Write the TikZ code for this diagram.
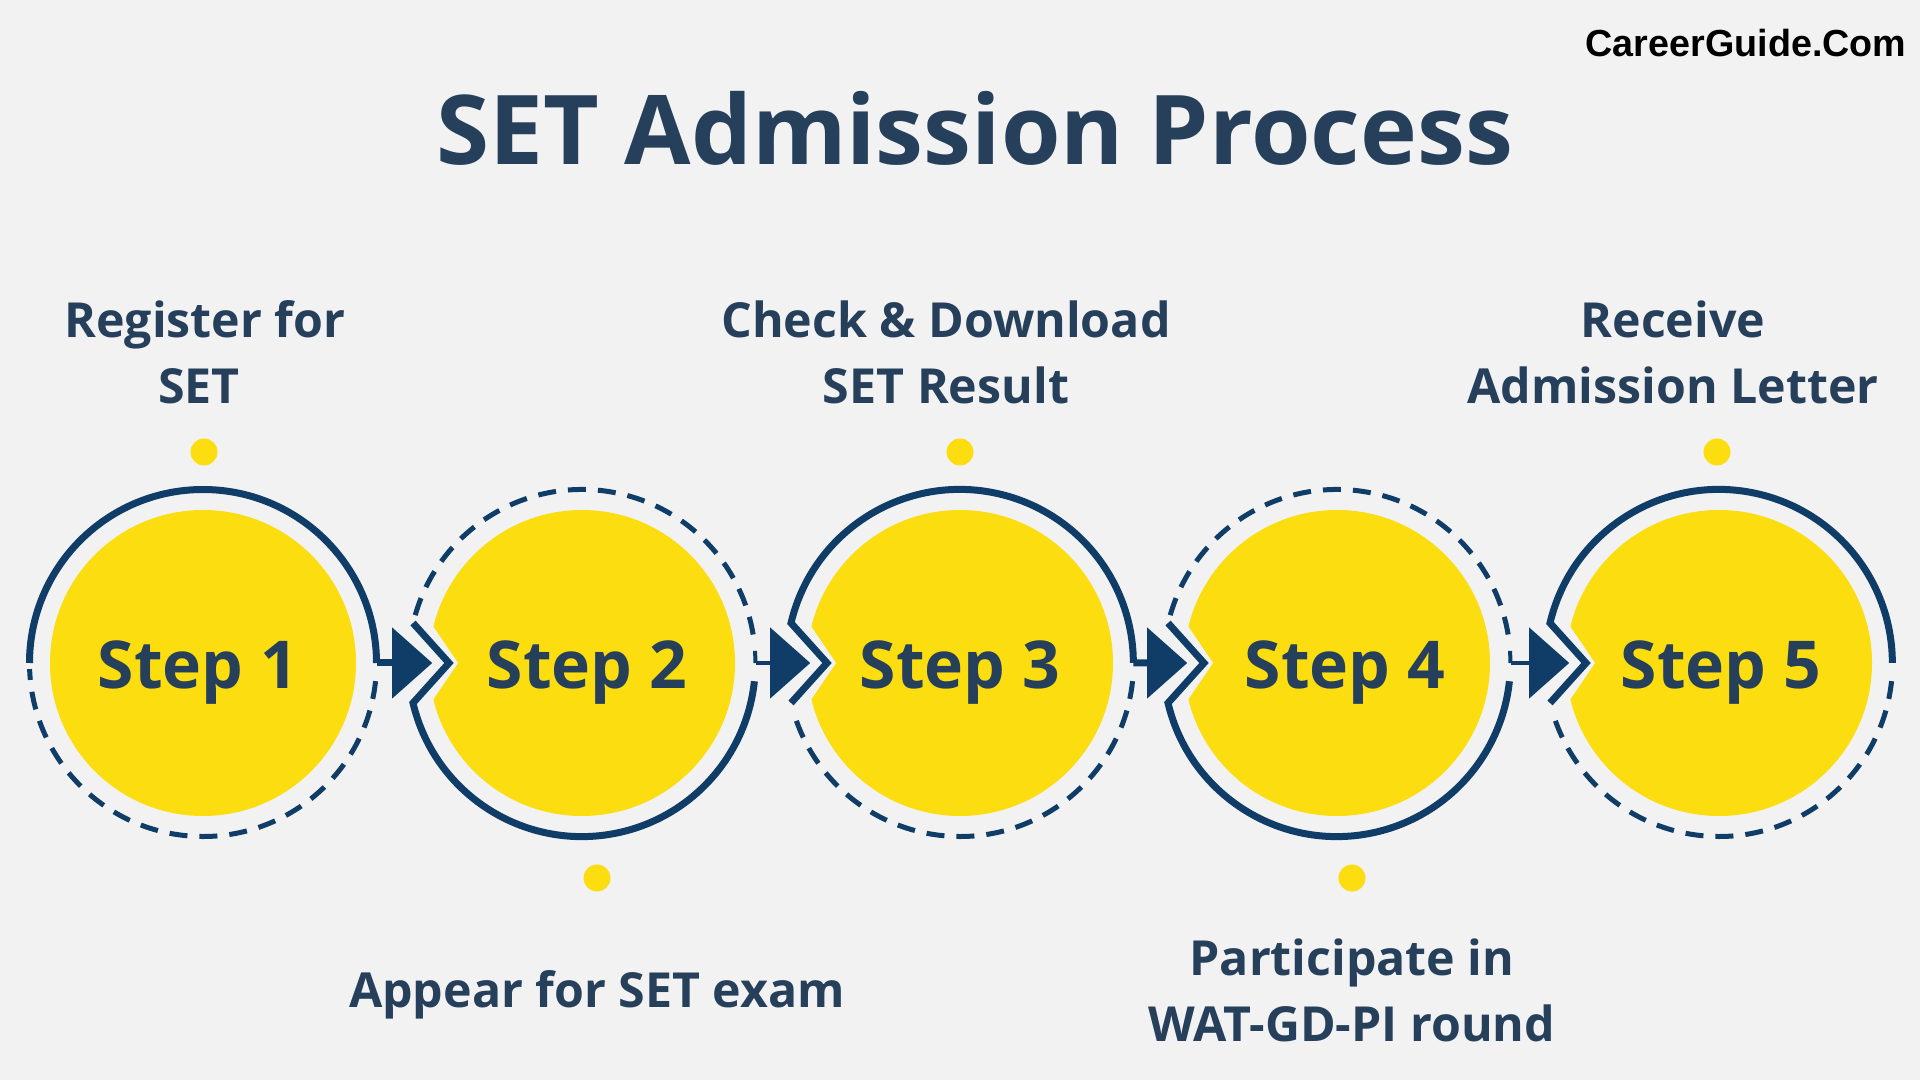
\documentclass[tikz,border=0pt]{standalone}
\usepackage{fontspec}
\setmainfont{Open Sans}
\newfontfamily\markfont{Liberation Sans}
\usepackage{tikz}
\usetikzlibrary{calc}
\usetikzlibrary{arrows, arrows.meta, positioning, shapes, shapes.geometric}
\definecolor{pagebg}{HTML}{F2F2F2}
\definecolor{navy}{HTML}{0F3D68}
\definecolor{slate}{HTML}{26405C}
\definecolor{sun}{HTML}{FBDD10}

\begin{document}
\begin{tikzpicture}[x=1pt, y=1pt]

	% Define block styles
	\tikzstyle{disc} = [circle, fill=sun, minimum size=306pt, inner sep=0pt]
	\tikzstyle{dotmark} = [circle, fill=sun, minimum size=27pt, inner sep=0pt]
	\tikzstyle{steptext} = [font=\bfseries\fontsize{66}{70}\selectfont, text=slate, inner sep=0pt]
	\tikzstyle{caption} = [font=\bfseries\fontsize{48.3}{66}\selectfont, text=slate, align=center, inner sep=0pt]
	\tikzstyle{head} = [isosceles triangle, isosceles triangle stretches, fill=navy, minimum width=71pt, minimum height=40pt, inner sep=0pt]
	\tikzstyle{full} = [draw=navy, line width=7pt, miter limit=10]
	\tikzstyle{broken} = [draw=navy, line width=5pt, dash pattern=on 18pt off 12pt]
	\tikzstyle{thick stem} = [draw=navy, line width=7pt]
	\tikzstyle{thin stem} = [draw=navy, line width=4pt]
	\tikzstyle{notch} = [fill=pagebg]

	\fill [pagebg] (0,0) rectangle (1920,1080);
	\useasboundingbox (0,0) rectangle (1920,1080);

	% Nodes
	\node [font=\bfseries\fontsize{96.3}{100}\selectfont, text=slate, inner sep=0pt] (title) at (975,952) {SET Admission Process};
	\node [font=\markfont\bfseries\fontsize{37.7}{40}\selectfont, text=black, inner sep=0pt] (brand) at (1746,1037) {CareerGuide.Com};

	\node [disc] (disc1) at (203,417) {};
	\node [disc, right of=disc1, node distance=379pt] (disc2) {};
	\node [disc, right of=disc2, node distance=378pt] (disc3) {};
	\node [disc, right of=disc3, node distance=377pt] (disc4) {};
	\node [disc, right of=disc4, node distance=382pt] (disc5) {};

	\path [notch, shift={(disc2.center)}] (-160,53) -- (-124,0) -- (-160,-53) -- cycle;
	\path [notch, shift={(disc3.center)}] (-160,53) -- (-124,0) -- (-160,-53) -- cycle;
	\path [notch, shift={(disc4.center)}] (-160,53) -- (-124,0) -- (-160,-53) -- cycle;
	\path [notch, shift={(disc5.center)}] (-160,53) -- (-124,0) -- (-160,-53) -- cycle;

	\node [steptext] (step1) at (198,407) {Step 1};
	\node [steptext] (step2) at (587,407) {Step 2};
	\node [steptext] (step3) at (960,407) {Step 3};
	\node [steptext] (step4) at (1345,407) {Step 4};
	\node [steptext] (step5) at (1721,407) {Step 5};

	\node [dotmark] (dot1) at (204,628) {};
	\node [dotmark] (dot2) at (597,202) {};
	\node [dotmark] (dot3) at (960,628) {};
	\node [dotmark] (dot4) at (1352,202) {};
	\node [dotmark] (dot5) at (1717,628) {};

	\node [caption] (text1) at (205,728) {Register for\\SET\hspace*{12pt}};
	\node [caption] (text2) at (597,85) {Appear for SET exam};
	\node [caption] (text3) at (946,728) {Check \& Download\\SET Result};
	\node [caption] (text4) at (1352,90) {Participate in\\WAT-GD-PI round};
	\node [caption] (text5) at (1673,728) {Receive\\Admission Letter};

	\node [head, anchor=west] (head2) at ($(disc2)+(-190,0)$) {};
	\node [head, anchor=west] (head3) at ($(disc3)+(-190,0)$) {};
	\node [head, anchor=west] (head4) at ($(disc4)+(-190,0)$) {};
	\node [head, anchor=west] (head5) at ($(disc5)+(-190,0)$) {};

	% Rings
	\draw [full, shift={(disc1.center)}] (180:173.5) arc (180:0:173.5) coordinate (out1);
	\draw [broken, shift={(disc1.center)}] (-6:173.5) arc (-6:-178:173.5);

	\draw [full, shift={(disc2.center)}] (-169,40) -- (-133,0) -- (-169,-40) arc (-166.7:-6:173.5);
	\draw [broken, shift={(disc2.center)}] (164:173.5) arc (164:8:173.5);
	\draw [thin stem, shift={(disc2.center)}] (4:173.5) coordinate (tick2) -- (0:173.5) coordinate (out2);

	\draw [full, shift={(disc3.center)}] (-169,-40) -- (-133,0) -- (-169,40) arc (166.7:0:173.5) coordinate (out3);
	\draw [broken, shift={(disc3.center)}] (-6:173.5) arc (-6:-162:173.5);

	\draw [full, shift={(disc4.center)}] (-169,40) -- (-133,0) -- (-169,-40) arc (-166.7:-6:173.5);
	\draw [broken, shift={(disc4.center)}] (164:173.5) arc (164:8:173.5);
	\draw [thin stem, shift={(disc4.center)}] (4:173.5) coordinate (tick4) -- (0:173.5) coordinate (out4);

	\draw [full, shift={(disc5.center)}] (-169,-40) -- (-133,0) -- (-169,40) arc (166.7:0:173.5);
	\draw [broken, shift={(disc5.center)}] (-6:173.5) arc (-6:-162:173.5);

	% Paths
	\path [thick stem] (out1) -- (head2);
	\path [thin stem] (out2) -- (head3);
	\path [thick stem] (out3) -- (head4);
	\path [thin stem] (out4) -- (head5);
\end{tikzpicture}
\end{document}
